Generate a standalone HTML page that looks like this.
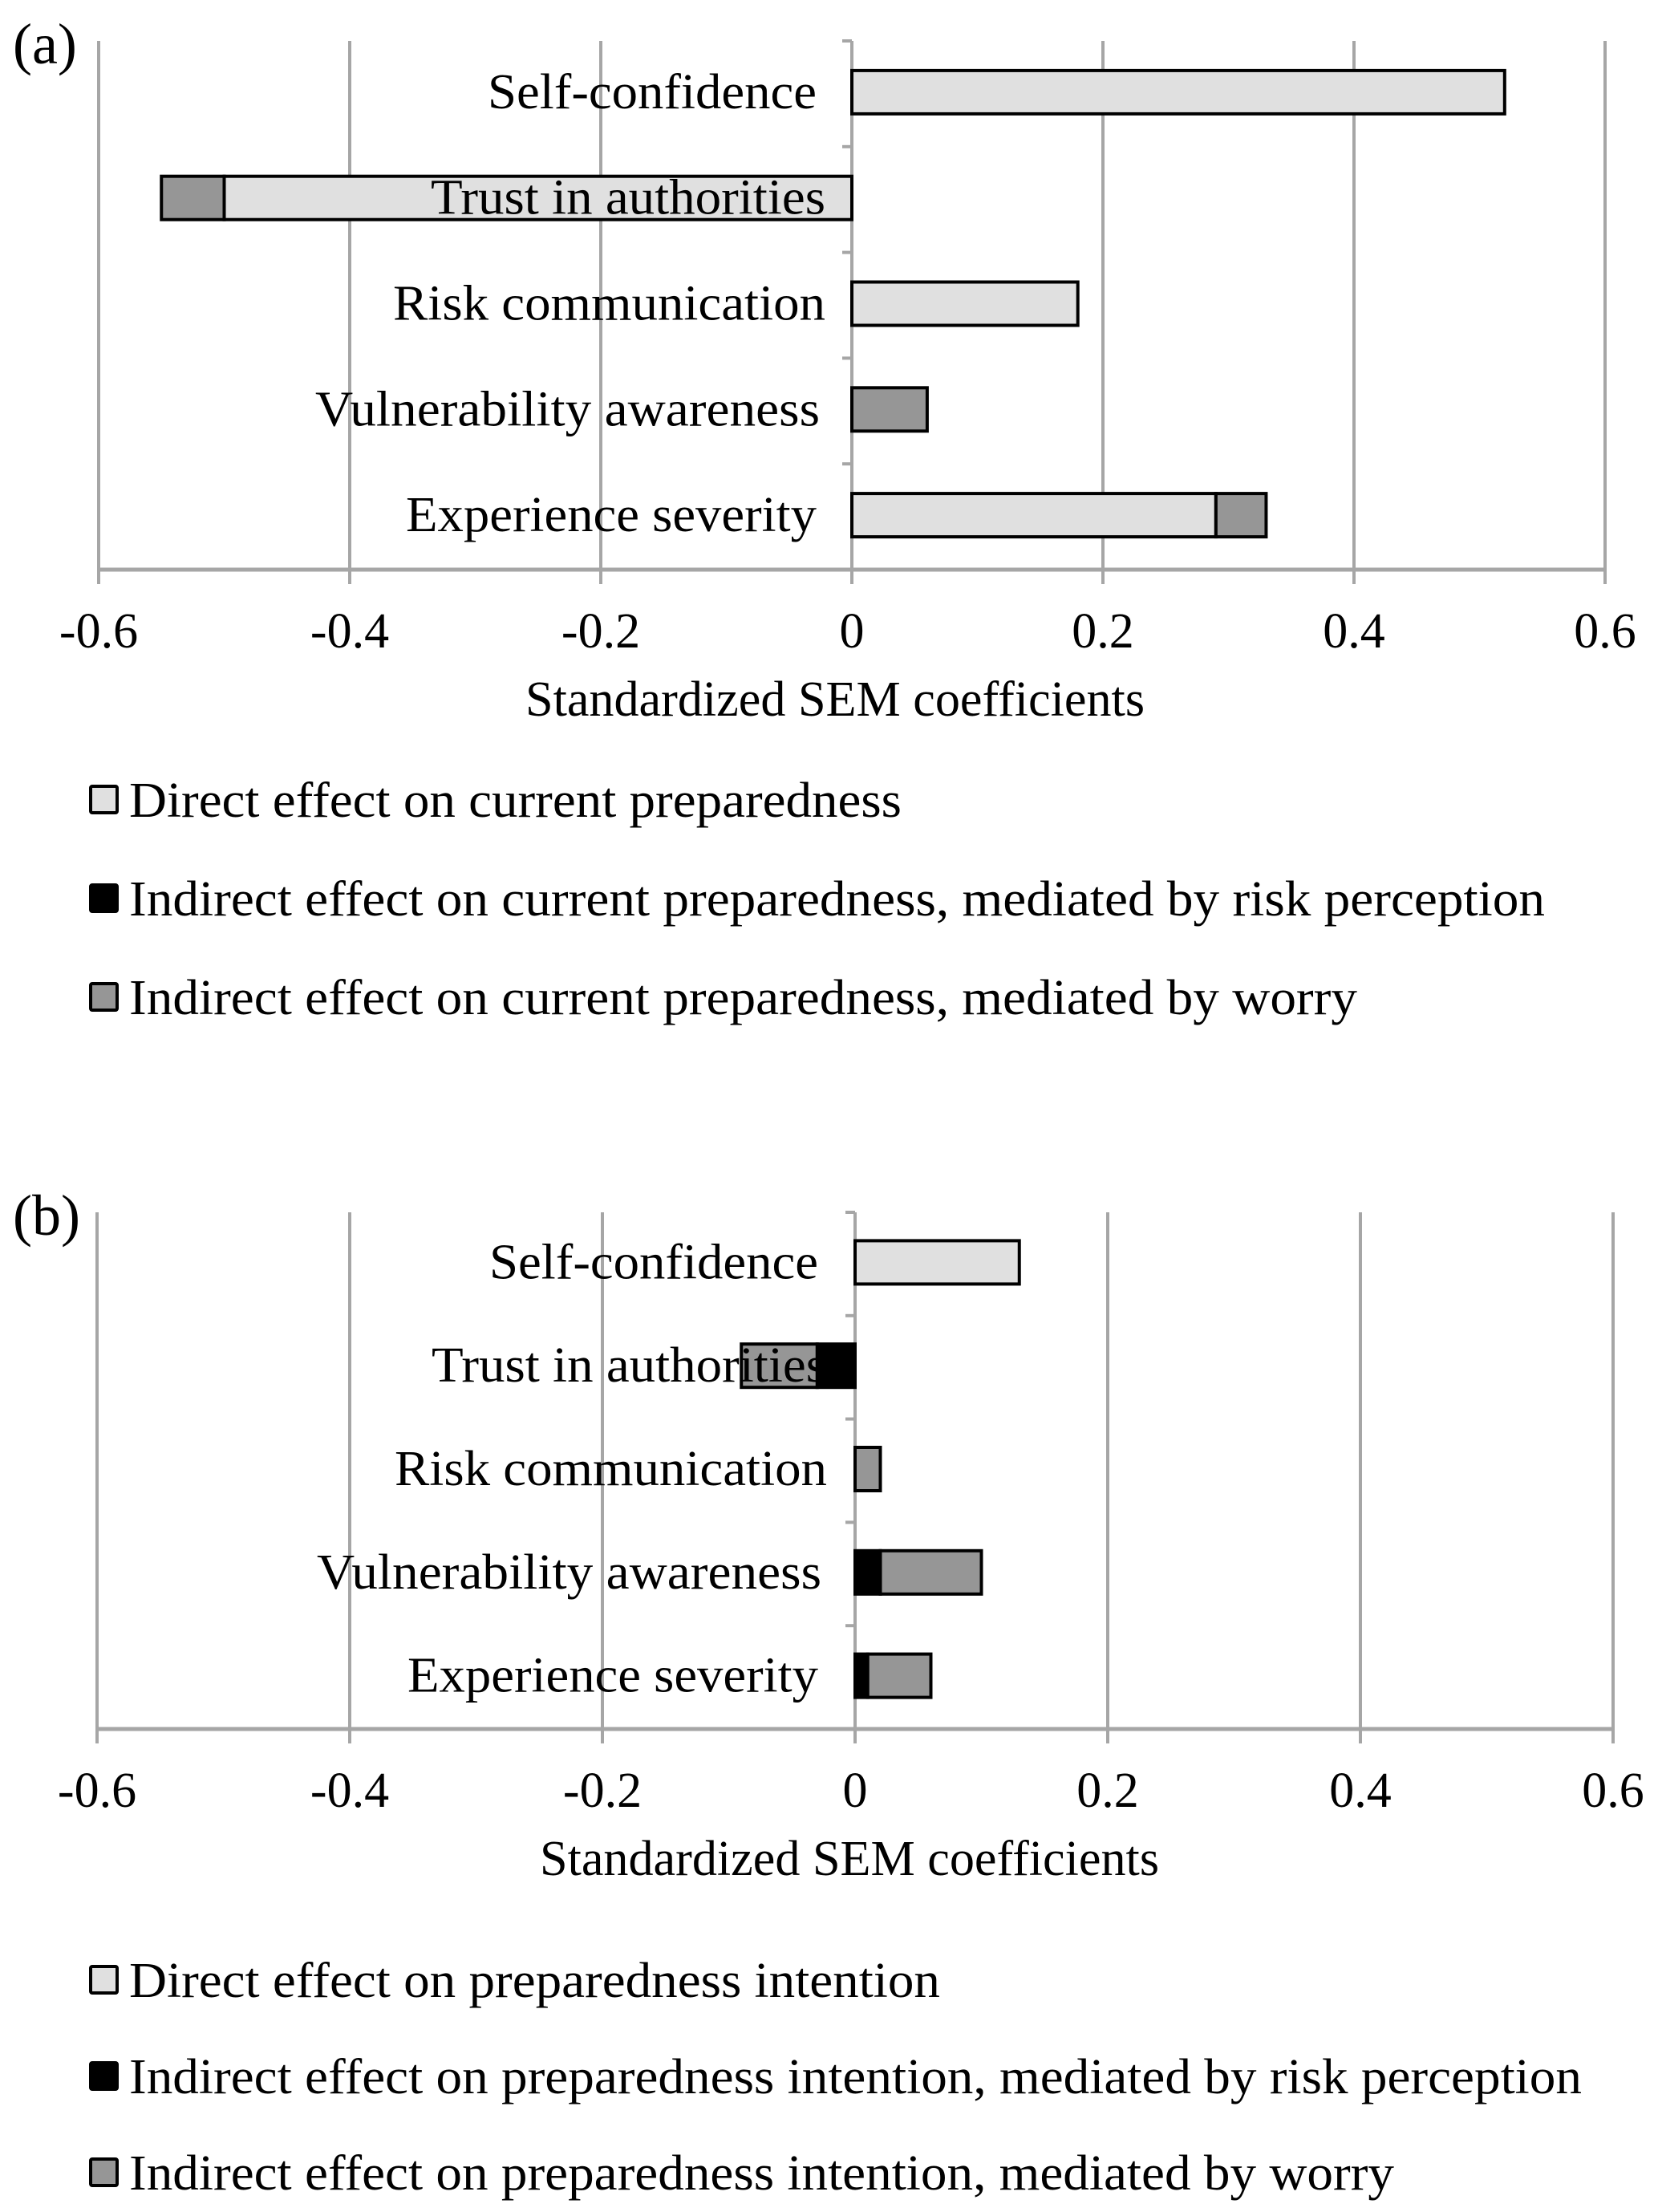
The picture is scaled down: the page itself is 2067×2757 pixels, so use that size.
<!DOCTYPE html>
<html><head><meta charset="utf-8"><style>
html,body{margin:0;padding:0;background:#fff;}
svg{display:block;}
text{font-family:"Liberation Serif",serif;fill:#000;}
</style></head>
<body>
<svg id="fig" width="2067" height="2757" viewBox="0 0 2067 2757"></svg>
<script>
const categories = ["Self-confidence","Trust in authorities","Risk communication","Vulnerability awareness","Experience severity"];
const ticks = [-0.6,-0.4,-0.2,0,0.2,0.4,0.6];
const tickLabels = ["-0.6","-0.4","-0.2","0","0.2","0.4","0.6"];
// Panel a
const aDirect = [0.52,-0.50,0.18,0,0.29];
const aRiskPerc = [0,0,0,0,0];
const aWorry = [0,-0.05,0,0.06,0.04];
// Panel b
const bDirect = [0.13,0,0,0,0];
const bRiskPerc = [0,-0.03,0,0.02,0.01];
const bWorry = [0,-0.06,0.02,0.08,0.05];
const legendA = ["Direct effect on current preparedness","Indirect effect on current preparedness, mediated by risk perception","Indirect effect on current preparedness, mediated by worry"];
const legendB = ["Direct effect on preparedness intention","Indirect effect on preparedness intention, mediated by risk perception","Indirect effect on preparedness intention, mediated by worry"];

const NS="http://www.w3.org/2000/svg";
const svg=document.getElementById('fig');
const colors=["#e0e0e0","#000000","#969696"];
function mk(tag,attrs,parent){const e=document.createElementNS(NS,tag);for(const k in attrs)e.setAttribute(k,attrs[k]);(parent||svg).appendChild(e);return e;}

function panel(cfg){
  const g=mk('g',{});
  
  
  const x=v=>cfg.zero+v*(cfg.unit/0.2);
  const bandH=(cfg.bottom-cfg.top)/categories.length;
  const yc=i=>cfg.top+bandH*(i+0.5);
  ticks.forEach((t,i)=>{
    if(t===0)return;
    const l=mk('line',{x1:x(t),x2:x(t),y1:cfg.top,y2:cfg.bottom+18,stroke:"#a6a6a6","stroke-width":4},g);
    
    
  });
  const ax=mk('line',{x1:x(-0.6),x2:x(0.6),y1:cfg.bottom,y2:cfg.bottom,stroke:"#a6a6a6","stroke-width":5},g);
  
  
  const za=mk('line',{x1:x(0),x2:x(0),y1:cfg.top,y2:cfg.bottom+18,stroke:"#a6a6a6","stroke-width":4},g);
  
  
  for(let i=0;i<=categories.length;i++){
    const tk=mk('line',{x1:x(0)-12,x2:x(0),y1:cfg.top+bandH*i,y2:cfg.top+bandH*i,stroke:"#a6a6a6","stroke-width":4},g);
    
    
  }
  categories.forEach((c,i)=>{
    const vals=[cfg.d[i],cfg.r[i],cfg.w[i]];
    let cum=0;
    const bh=54, y0=yc(i)-bh/2-2;
    vals.forEach((v,s)=>{
      if(v===0)return;
      const a=x(cum),b=x(cum+v);cum+=v;
      const r=mk('rect',{x:Math.min(a,b),y:y0,width:Math.abs(b-a),height:bh,fill:colors[s],stroke:"#000","stroke-width":4},g);
      
      
    });
  });
  categories.forEach((c,i)=>{
    const t=mk('text',{x:cfg.labelRight[i],y:yc(i)+18,"text-anchor":"end","font-size":62,textLength:cfg.labelW[i],lengthAdjust:"spacingAndGlyphs"},g);
    t.textContent=c;
    
    
  });
  ticks.forEach((tv,i)=>{
    const t=mk('text',{x:x(tv),y:cfg.bottom+97,"text-anchor":"middle","font-size":62},g);
    t.textContent=tickLabels[i];
    
    
  });
  const tt=mk('text',{x:cfg.titleX,y:cfg.bottom+182,"font-size":62,textLength:cfg.titleW,lengthAdjust:"spacingAndGlyphs"},g);
  tt.textContent="Standardized SEM coefficients";
  
  
  const pl=mk('text',{x:16,y:cfg.top+28,"font-size":72},g);
  pl.textContent=cfg.label;
  
  
  cfg.legend.forEach((txt,i)=>{
    const by=cfg.legTop+i*cfg.legStep;
    const r=mk('rect',{x:113,y:by,width:33,height:33,fill:colors[i],stroke:"#000","stroke-width":4,rx:2},g);
    
    
    const t=mk('text',{x:161,y:by+38,"font-size":62,textLength:cfg.legW[i],lengthAdjust:"spacingAndGlyphs"},g);
    t.textContent=txt;
    
    
  });
}
panel({name:'panel-a',label:'(a)',top:51,bottom:710,zero:1062,unit:313,d:aDirect,r:aRiskPerc,w:aWorry,
  labelRight:[1018,1029,1029,1022,1018],labelW:[410,492,539,629,512],titleX:655,titleW:772,
  legend:legendA,legTop:980,legStep:123,legW:[963,1765,1531]});
panel({name:'panel-b',label:'(b)',top:1511,bottom:2155,zero:1066,unit:315,d:bDirect,r:bRiskPerc,w:bWorry,
  labelRight:[1020,1030,1031,1024,1020],labelW:[410,492,539,629,512],titleX:673,titleW:772,
  legend:legendB,legTop:2451,legStep:120,legW:[1011,1811,1577]});
</script>
</body></html>
